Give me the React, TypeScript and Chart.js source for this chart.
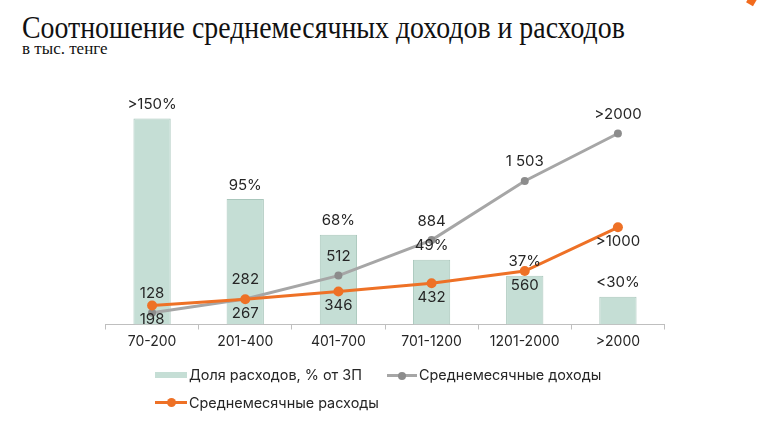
import React, { useEffect, useRef } from "react";
import { Chart, registerables } from "chart.js";

Chart.register(...registerables);

const categories = ["70-200", "201-400", "401-700", "701-1200", "1201-2000", ">2000"];
const shareValues = [156, 95, 68, 49, 37, 21];
const shareLabels = [">150%", "95%", "68%", "49%", "37%", "<30%"];
const incomeValues = [122, 268, 512, 884, 1503, 2000];
const incomeLabels = ["128", "282", "512", "884", "1 503", ">2000"];
const expenseValues = [198, 265, 346, 432, 560, 1018];
const expenseLabels = ["198", "267", "346", "432", "560", ">1000"];

const legendNames = ["Доля расходов, % от ЗП", "Среднемесячные доходы", "Среднемесячные расходы"];

const BAR_FILL = "#c5ded5";
const BAR_BORDER = "#a9c7bc";
const GRAY = "#a6a6a6";
const GRAY_PT = "#8c8c8c";
const ORANGE = "#ee7126";
const TEXT = "#262626";
const FONT = "Inter, 'Noto Sans', sans-serif";
const SERIF = "'Liberation Serif', 'Times New Roman', serif";

const labelPlugin = {
  id: "valueLabels",
  afterDatasetsDraw(chart: any) {
    const ctx = chart.ctx;
    ctx.save();
    ctx.font = `15px ${FONT}`;
    ctx.fillStyle = TEXT;
    ctx.textAlign = "center";
    ctx.textBaseline = "middle";
    const specs = [
      { idx: 0, labels: shareLabels, dy: -14 },
      { idx: 1, labels: incomeLabels, dy: -19 },
      { idx: 2, labels: expenseLabels, dy: 14 },
    ];
    specs.forEach((s) => {
      const meta = chart.getDatasetMeta(s.idx);
      meta.data.forEach((el: any, i: number) => {
        ctx.fillText(s.labels[i], el.x, el.y + s.dy);
      });
    });
    ctx.restore();
  },
};

export default function App() {
  const ref = useRef<HTMLCanvasElement | null>(null);

  useEffect(() => {
    if (!ref.current) return;
    const chart = new Chart(ref.current, {
      type: "bar",
      data: {
        labels: categories,
        datasets: [
          {
            type: "bar",
            label: legendNames[0],
            data: shareValues,
            backgroundColor: BAR_FILL,
            borderColor: BAR_BORDER,
            borderWidth: 1,
            barPercentage: 0.5,
            categoryPercentage: 0.8,
            yAxisID: "yBar",
            order: 3,
          } as any,
          {
            type: "line",
            label: legendNames[1],
            data: incomeValues,
            borderColor: GRAY,
            borderWidth: 3,
            pointRadius: 4,
            pointBackgroundColor: GRAY_PT,
            pointBorderColor: GRAY_PT,
            pointBorderWidth: 0,
            tension: 0,
            yAxisID: "yLine",
            order: 2,
          } as any,
          {
            type: "line",
            label: legendNames[2],
            data: expenseValues,
            borderColor: ORANGE,
            borderWidth: 3,
            pointRadius: 5,
            pointBackgroundColor: ORANGE,
            pointBorderColor: ORANGE,
            pointBorderWidth: 0,
            tension: 0,
            yAxisID: "yLine",
            order: 1,
          } as any,
        ],
      },
      options: {
        responsive: false,
        animation: false,
        devicePixelRatio: 1,
        layout: { padding: { left: 105.5, right: 95.5, top: 80, bottom: 69.5 } },
        plugins: {
          legend: { display: false },
          tooltip: { enabled: false },
          title: { display: false },
        },
        scales: {
          x: {
            offset: true,
            grid: {
              offset: true,
              drawOnChartArea: false,
              drawTicks: true,
              tickLength: 5,
              color: "#bfbfbf",
            },
            border: { color: "#bfbfbf", width: 1 },
            ticks: {
              color: TEXT,
              padding: 4,
              font: { family: FONT, size: 14 },
            },
            afterFit: (scale: any) => {
              scale.height = 30;
            },
          },
          yBar: { display: false, min: 0, max: 185.2 },
          yLine: { display: false, min: 0, max: 2560 },
        },
      } as any,
      plugins: [labelPlugin],
    });
    return () => chart.destroy();
  }, []);

  const legendText: React.CSSProperties = {
    position: "absolute",
    fontFamily: FONT,
    fontSize: 14.4,
    color: TEXT,
    whiteSpace: "nowrap",
    lineHeight: "18px",
  };

  return (
    <div
      style={{
        position: "fixed",
        left: 0,
        top: 0,
        width: 760,
        height: 424,
        background: "#fff",
        overflow: "hidden",
      }}
    >
      <div
        style={{
          position: "absolute",
          left: 22,
          top: 9,
          fontFamily: SERIF,
          fontSize: 32,
          fontWeight: 400,
          lineHeight: "36px",
          color: "#111",
          whiteSpace: "nowrap",
          transform: "scaleX(0.87)",
          transformOrigin: "left top",
        }}
      >
        Соотношение среднемесячных доходов и расходов
      </div>
      <div
        style={{
          position: "absolute",
          left: 22,
          top: 40,
          fontFamily: SERIF,
          fontSize: 17,
          lineHeight: "18px",
          color: "#111",
          whiteSpace: "nowrap",
        }}
      >
        в тыс. тенге
      </div>
      <div
        style={{
          position: "absolute",
          left: 748,
          top: -5,
          width: 8,
          height: 10,
          background: "#f26b1d",
          transform: "rotate(30deg)",
        }}
      />
      <canvas ref={ref} width={760} height={424} style={{ position: "absolute", left: 0, top: 0 }} />

      {/* legend */}
      <div style={{ position: "absolute", left: 155, top: 372, width: 32, height: 6, background: BAR_FILL }} />
      <div style={{ ...legendText, left: 189, top: 366 }}>{legendNames[0]}</div>

      <div style={{ position: "absolute", left: 387, top: 374, width: 30, height: 3, background: GRAY }} />
      <div
        style={{
          position: "absolute",
          left: 398,
          top: 371.5,
          width: 8,
          height: 8,
          borderRadius: 4,
          background: GRAY_PT,
        }}
      />
      <div style={{ ...legendText, left: 419, top: 366 }}>{legendNames[1]}</div>

      <div style={{ position: "absolute", left: 155, top: 401, width: 32, height: 3, background: ORANGE }} />
      <div
        style={{
          position: "absolute",
          left: 166.5,
          top: 398,
          width: 9,
          height: 9,
          borderRadius: 4.5,
          background: ORANGE,
        }}
      />
      <div style={{ ...legendText, left: 189, top: 394 }}>{legendNames[2]}</div>
    </div>
  );
}
